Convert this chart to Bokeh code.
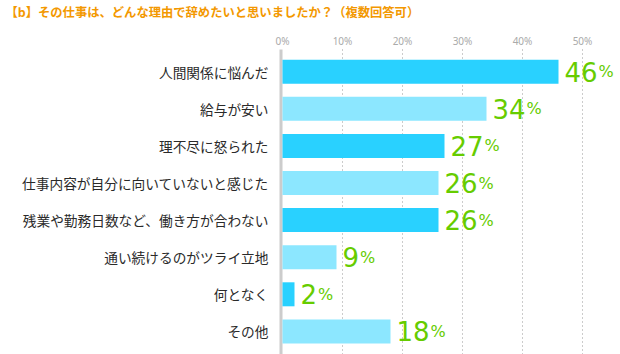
from bokeh.plotting import figure
from bokeh.models import ColumnDataSource, Range1d, Label
from bokeh.core.properties import value
from bokeh.embed import file_html
from bokeh.resources import INLINE

title_text = "【b】その仕事は、どんな理由で辞めたいと思いましたか？（複数回答可）"
categories = [
    "人間関係に悩んだ",
    "給与が安い",
    "理不尽に怒られた",
    "仕事内容が自分に向いていないと感じた",
    "残業や勤務日数など、働き方が合わない",
    "通い続けるのがツライ立地",
    "何となく",
    "その他",
]
values = [46, 34, 27, 26, 26, 9, 2, 18]
tick_values = [0, 10, 20, 30, 40, 50]
tick_labels = ["0%", "10%", "20%", "30%", "40%", "50%"]

W, H = 620, 354
X0_PX = 282.0      # pixel of 0%
PX_PER = 6.0       # pixels per percent
ROW0 = 71.2        # pixel center of first row
ROW_STEP = 37.1

def xd(px):
    return (px - X0_PX) / PX_PER

def yd(py):
    return (py - ROW0) / ROW_STEP

p = figure(width=W, height=H, output_backend="svg", toolbar_location=None,
           x_range=Range1d(xd(0), xd(W)), y_range=Range1d(yd(H), yd(0)),
           min_border=0, outline_line_color=None)
p.axis.visible = False
p.grid.visible = False
p.background_fill_color = "white"
p.border_fill_color = "white"

idx = list(range(len(categories)))
colors = ["#29d1ff" if i % 2 == 0 else "#8ce7ff" for i in idx]
ndig = [len(str(v)) for v in values]
pct_off = [6 + n * 16.5 + 1 for n in ndig]

src = ColumnDataSource(dict(y=idx, v=values, cat=categories, color=colors,
                            num=[str(v) for v in values],
                            pct=["%"] * len(values), pct_off=pct_off))

# dotted grid lines
gx = tick_values[1:]
p.segment(x0=gx, x1=gx, y0=[yd(49)] * len(gx), y1=[yd(H)] * len(gx),
          line_color="#999999", line_width=1, line_dash="1 3")

# axis vertical line
p.segment(x0=[xd(280.5)], x1=[xd(280.5)], y0=[yd(49)], y1=[yd(H)],
          line_color="#cccccc", line_width=3)

# tick labels
p.text(x=tick_values, y=[yd(40)] * len(tick_values), text=tick_labels,
       text_font=value("Noto Sans"), text_font_size="10px",
       text_color="#aaaaaa", text_align="center", text_baseline="middle")

# bars
p.hbar(y="y", left=0, right="v", height=24.0 / ROW_STEP, fill_color="color",
       line_color=None, source=src)

# category labels
p.text(x=xd(268), y="y", text="cat", source=src,
       text_font=value("Noto Sans CJK JP"), text_font_size="13.7px",
       text_color="#2a2a2a", text_align="right", text_baseline="middle")

# value labels
p.text(x="v", y="y", text="num", source=src, x_offset=6, y_offset=0,
       text_font=value("DejaVu Sans"), text_font_size="26px",
       text_color="#66cc00", text_align="left", text_baseline="alphabetic")
p.text(x="v", y="y", text="pct", source=src, x_offset="pct_off", y_offset=0,
       text_font=value("DejaVu Sans"), text_font_size="16px",
       text_color="#66cc00", text_align="left", text_baseline="alphabetic")

# title
p.add_layout(Label(x=5, y=H - 11.5, x_units="screen", y_units="screen",
                   text=title_text, text_font="Noto Sans CJK JP",
                   text_font_size="12.3px", text_font_style="bold",
                   text_color="#f39800", text_baseline="middle"))

open("out.html", "w").write(file_html(p, INLINE))
